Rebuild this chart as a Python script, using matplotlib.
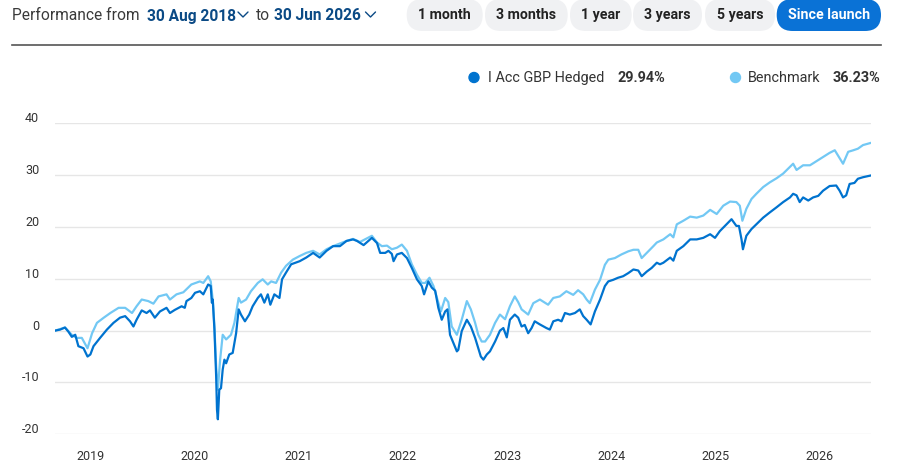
import matplotlib
matplotlib.use("Agg")
import matplotlib.pyplot as plt
import pandas as pd
from matplotlib.patches import FancyBboxPatch, Circle
from matplotlib.transforms import ScaledTranslation

# fund series (cumulative % return)
fund_dates = [
    "2018-08-30", "2018-09-17", "2018-10-04", "2018-10-16", "2018-10-28", "2018-11-09",
    "2018-11-20", "2018-12-08", "2018-12-22", "2019-01-01", "2019-01-12", "2019-02-04",
    "2019-02-28", "2019-03-23", "2019-04-15", "2019-05-03", "2019-05-20", "2019-06-01",
    "2019-06-12", "2019-06-30", "2019-07-17", "2019-07-29", "2019-08-15", "2019-09-02",
    "2019-09-25", "2019-10-07", "2019-10-24", "2019-11-17", "2019-11-28", "2019-12-04",
    "2019-12-21", "2020-01-03", "2020-01-20", "2020-02-01", "2020-02-18", "2020-02-27",
    "2020-03-02", "2020-03-05", "2020-03-11", "2020-03-17", "2020-03-20", "2020-03-23",
    "2020-03-28", "2020-04-03", "2020-04-09", "2020-04-15", "2020-04-21", "2020-05-02",
    "2020-05-14", "2020-05-26", "2020-06-04", "2020-06-12", "2020-06-26", "2020-07-11",
    "2020-07-23", "2020-08-10", "2020-08-21", "2020-09-02", "2020-09-14", "2020-09-23",
    "2020-10-07", "2020-10-25", "2020-11-03", "2020-11-17", "2020-12-05", "2021-01-04",
    "2021-01-27", "2021-02-20", "2021-03-15", "2021-04-08", "2021-05-01", "2021-05-25",
    "2021-06-17", "2021-07-10", "2021-07-24", "2021-08-16", "2021-09-14", "2021-10-02",
    "2021-10-13", "2021-10-31", "2021-11-11", "2021-11-23", "2021-11-29", "2021-12-11",
    "2021-12-28", "2022-01-15", "2022-02-01", "2022-02-19", "2022-03-08", "2022-03-16",
    "2022-03-31", "2022-04-12", "2022-04-24", "2022-05-05", "2022-05-17", "2022-05-29",
    "2022-06-06", "2022-06-15", "2022-06-27", "2022-07-09", "2022-07-14", "2022-07-26",
    "2022-08-13", "2022-08-27", "2022-09-11", "2022-09-22", "2022-10-01", "2022-10-10",
    "2022-10-22", "2022-11-02", "2022-11-20", "2022-12-07", "2022-12-19", "2022-12-31",
    "2023-01-11", "2023-01-28", "2023-02-09", "2023-02-21", "2023-03-04", "2023-03-16",
    "2023-03-28", "2023-04-08", "2023-04-26", "2023-05-19", "2023-05-31", "2023-06-12",
    "2023-06-29", "2023-07-11", "2023-07-23", "2023-08-09", "2023-08-27", "2023-09-13",
    "2023-09-25", "2023-10-07", "2023-10-21", "2023-11-05", "2023-11-23", "2023-12-10",
    "2023-12-22", "2024-01-08", "2024-01-25", "2024-02-12", "2024-03-01", "2024-03-19",
    "2024-04-05", "2024-04-17", "2024-05-05", "2024-05-22", "2024-06-09", "2024-06-20",
    "2024-07-02", "2024-07-26", "2024-08-06", "2024-08-18", "2024-09-10", "2024-10-04",
    "2024-10-27", "2024-11-19", "2024-12-13", "2024-12-30", "2025-01-16", "2025-02-08",
    "2025-02-26", "2025-03-15", "2025-03-24", "2025-04-02", "2025-04-07", "2025-04-19",
    "2025-05-07", "2025-05-24", "2025-06-17", "2025-07-10", "2025-08-03", "2025-08-26",
    "2025-09-19", "2025-09-30", "2025-10-12", "2025-10-23", "2025-11-04", "2025-11-22",
    "2025-12-09", "2025-12-27", "2026-01-13", "2026-02-05", "2026-02-28", "2026-03-12",
    "2026-03-24", "2026-04-04", "2026-04-16", "2026-05-03", "2026-05-15", "2026-06-02",
    "2026-06-30",
]
fund_values = [
    0.0, 0.2, 0.6, -0.2, -1.2, -0.8,
    -3.0, -3.4, -5.0, -4.6, -3.0, -1.4,
    0.2, 1.5, 2.5, 2.8, 1.8, 0.8,
    2.1, 3.9, 3.4, 3.9, 2.5, 3.7,
    4.4, 3.4, 4.0, 4.7, 4.4, 5.7,
    6.3, 7.3, 7.6, 7.0, 8.9, 8.6,
    5.4, 6.0, 0.2, -8.8, -15.3, -17.1,
    -11.4, -11.1, -7.5, -5.6, -6.3, -4.6,
    -4.3, -0.5, 4.1, 3.1, 1.8, 3.1,
    4.7, 6.3, 7.0, 5.4, 7.0, 5.0,
    7.0, 6.3, 9.9, 11.2, 12.8, 13.4,
    14.1, 15.0, 14.1, 15.4, 16.3, 16.3,
    17.3, 17.6, 17.3, 16.5, 17.9, 16.9,
    15.0, 15.0, 15.4, 14.8, 13.4, 14.7,
    15.0, 14.0, 12.1, 9.9, 8.6, 7.0,
    9.5, 8.3, 7.7, 4.4, 2.1, 3.7,
    4.1, -0.8, -2.4, -4.0, -3.7, -0.1,
    2.1, 0.8, -1.4, -3.4, -5.0, -5.6,
    -4.6, -4.0, -2.1, 0.0, 0.5, -1.3,
    2.1, 3.1, 2.5, 0.8, 1.1, -0.5,
    0.5, 1.8, 1.2, 0.5, 0.2, 1.8,
    2.1, 1.8, 3.4, 3.1, 3.4, 4.1,
    2.8, 2.1, 1.2, 3.7, 6.0, 8.6,
    9.5, 9.8, 10.2, 10.5, 11.1, 11.8,
    11.6, 10.5, 11.4, 12.1, 13.1, 12.8,
    13.1, 14.1, 13.5, 15.4, 16.3, 17.6,
    17.6, 17.9, 18.6, 17.9, 19.2, 20.5,
    21.5, 20.2, 20.2, 17.6, 15.7, 18.3,
    19.6, 20.5, 21.8, 22.8, 23.8, 24.8,
    25.7, 26.4, 26.1, 24.8, 25.7, 25.1,
    25.7, 26.0, 27.0, 27.9, 28.0, 27.0,
    25.7, 26.1, 28.3, 28.5, 29.3, 29.6,
    29.94,
]

# benchmark series
bench_dates = [
    "2018-08-30", "2018-10-04", "2018-10-28", "2018-11-14", "2018-12-02", "2018-12-22",
    "2019-01-07", "2019-01-24", "2019-02-17", "2019-03-12", "2019-04-10", "2019-05-03",
    "2019-05-27", "2019-06-12", "2019-06-30", "2019-07-23", "2019-08-10", "2019-08-28",
    "2019-09-25", "2019-10-07", "2019-10-30", "2019-11-23", "2019-12-21", "2020-01-20",
    "2020-02-01", "2020-02-18", "2020-02-27", "2020-03-06", "2020-03-11", "2020-03-17",
    "2020-03-23", "2020-03-31", "2020-04-09", "2020-04-21", "2020-05-08", "2020-05-20",
    "2020-06-04", "2020-06-12", "2020-06-30", "2020-07-17", "2020-08-10", "2020-08-27",
    "2020-09-14", "2020-09-26", "2020-10-13", "2020-10-31", "2020-11-17", "2020-12-11",
    "2021-01-04", "2021-01-27", "2021-02-20", "2021-03-15", "2021-04-08", "2021-05-01",
    "2021-06-17", "2021-07-10", "2021-08-03", "2021-09-14", "2021-10-02", "2021-10-19",
    "2021-11-06", "2021-11-23", "2021-12-11", "2021-12-28", "2022-01-15", "2022-02-01",
    "2022-02-19", "2022-03-08", "2022-03-20", "2022-04-04", "2022-04-18", "2022-05-02",
    "2022-05-14", "2022-05-29", "2022-06-09", "2022-06-21", "2022-07-09", "2022-07-26",
    "2022-08-13", "2022-08-27", "2022-09-11", "2022-09-22", "2022-10-04", "2022-10-16",
    "2022-11-02", "2022-11-20", "2022-12-07", "2022-12-25", "2023-01-11", "2023-01-28",
    "2023-02-09", "2023-02-21", "2023-03-16", "2023-04-03", "2023-04-26", "2023-05-25",
    "2023-06-12", "2023-07-05", "2023-07-28", "2023-08-21", "2023-09-07", "2023-09-25",
    "2023-10-07", "2023-10-18", "2023-11-05", "2023-11-23", "2023-12-10", "2023-12-22",
    "2024-01-14", "2024-02-06", "2024-03-01", "2024-03-19", "2024-04-05", "2024-04-17",
    "2024-05-05", "2024-05-28", "2024-06-09", "2024-07-02", "2024-07-26", "2024-08-06",
    "2024-08-18", "2024-09-10", "2024-10-04", "2024-10-27", "2024-11-19", "2024-12-13",
    "2025-01-05", "2025-01-28", "2025-02-21", "2025-03-15", "2025-03-27", "2025-04-05",
    "2025-04-19", "2025-05-07", "2025-05-24", "2025-06-17", "2025-07-10", "2025-08-03",
    "2025-08-26", "2025-09-19", "2025-09-30", "2025-10-12", "2025-11-04", "2025-11-28",
    "2025-12-21", "2026-01-13", "2026-02-05", "2026-02-23", "2026-03-06", "2026-03-24",
    "2026-04-11", "2026-04-29", "2026-05-15", "2026-06-02", "2026-06-30",
]
bench_values = [
    0.0, 0.6, -0.8, -1.4, -1.4, -3.4,
    -0.5, 1.5, 2.5, 3.4, 4.4, 4.4,
    3.4, 4.7, 6.0, 5.7, 5.2, 6.6,
    7.0, 6.0, 7.0, 7.4, 8.9, 9.5,
    9.2, 10.5, 9.5, 5.4, 0.8, -6.9,
    -11.4, -5.6, -0.8, -1.7, -0.8, 1.5,
    6.3, 5.4, 6.0, 7.6, 9.2, 9.9,
    8.9, 9.5, 9.2, 11.2, 12.5, 13.7,
    14.4, 15.0, 15.4, 14.7, 15.7, 16.3,
    17.3, 17.7, 17.1, 18.3, 17.0, 16.3,
    16.4, 15.7, 16.0, 16.6, 15.4, 12.8,
    10.8, 9.2, 9.2, 10.2, 8.6, 6.0,
    3.7, 6.3, 5.5, 0.8, -0.8, 2.1,
    5.7, 4.1, 1.5, -0.8, -2.1, -2.1,
    -0.8, 1.5, 3.1, 2.2, 4.7, 6.6,
    5.5, 4.1, 3.1, 5.3, 6.0, 5.0,
    6.3, 6.6, 7.6, 6.9, 7.8, 7.0,
    6.0, 5.3, 7.9, 9.8, 12.7, 13.7,
    14.0, 14.7, 15.3, 15.6, 15.6, 14.0,
    15.0, 16.3, 17.0, 17.6, 18.6, 18.0,
    20.5, 21.2, 22.0, 21.8, 22.2, 23.3,
    22.5, 24.1, 24.9, 24.8, 24.1, 21.2,
    23.5, 25.4, 26.4, 27.7, 28.6, 29.4,
    30.3, 31.6, 32.2, 31.0, 31.9, 31.9,
    32.7, 33.5, 34.3, 34.8, 33.8, 32.2,
    34.5, 34.8, 35.1, 35.8, 36.23,
]

year_ticks = ["2019", "2020", "2021", "2022", "2023", "2024", "2025", "2026"]
y_ticks = [-20, -10, 0, 10, 20, 30, 40]
periods = ["1 month", "3 months", "1 year", "3 years", "5 years", "Since launch"]

FUND_C = "#0073cf"
BENCH_C = "#72c8f4"
TEXT_C = "#333333"
NAVY = "#0b4a85"

plt.rcParams["font.family"] = ["Roboto", "DejaVu Sans"]

W, H = 898, 472
fig = plt.figure(figsize=(W / 100, H / 100), dpi=100)

# overlay for header decorations, pixel coordinates
bg = fig.add_axes([0, 0, 1, 1])
bg.set_xlim(0, W)
bg.set_ylim(H, 0)
bg.axis("off")

bg.text(12, 20.5, "Performance from", fontsize=11.2, color="#3a3a3a", va="baseline")
bg.text(146.7, 20.5, "30 Aug 2018", fontsize=11.2, color=NAVY, weight="bold", va="baseline")
bg.text(256, 20.5, "to", fontsize=11.2, color="#3a3a3a", va="baseline")
bg.text(274.3, 20.5, "30 Jun 2026", fontsize=11.2, color=NAVY, weight="bold", va="baseline")
for cx in (243, 370.5):
    bg.plot([cx - 5, cx, cx + 5], [12, 17, 12], color=NAVY, lw=1.0, solid_capstyle="round")

pill_x = [(406.7, 482.7), (485, 567.7), (570, 631.7), (633, 702), (705, 775), (776.7, 881)]
for (x0, x1), label in zip(pill_x, periods):
    active = label == "Since launch"
    box = FancyBboxPatch((x0, -1), x1 - x0, 32,
                         boxstyle="round,pad=0,rounding_size=16",
                         fc="#0a72d6" if active else "#f0f1f3", ec="none")
    bg.add_patch(box)
    bg.text((x0 + x1) / 2, 19.3, label, fontsize=10.2, weight="bold",
            color="white" if active else "#222222", ha="center", va="baseline")

bg.plot([12, 881], [45, 45], color="#555555", lw=1.2)

# legend
bg.add_patch(Circle((474, 77.5), 5, color=FUND_C))
bg.text(488, 82.3, "I Acc GBP Hedged", fontsize=10.4, color=TEXT_C, va="baseline")
bg.text(618, 82.3, "29.94%", fontsize=10.4, color=TEXT_C, weight="bold", va="baseline")
bg.add_patch(Circle((735.5, 77.5), 5, color=BENCH_C))
bg.text(748, 82.3, "Benchmark", fontsize=10.4, color=TEXT_C, va="baseline")
bg.text(880.5, 82.3, "36.23%", fontsize=10.4, color=TEXT_C, weight="bold",
        va="baseline", ha="right")

# main chart
ax = fig.add_axes([55 / W, 1 - 434.3 / H, (871 - 55) / W, (434.3 - 123.3) / H])
ax.set_facecolor("none")
fd = pd.to_datetime(fund_dates)
bd = pd.to_datetime(bench_dates)
ax.plot(bd, bench_values, color=BENCH_C, lw=1.6, zorder=3)
ax.plot(fd, fund_values, color=FUND_C, lw=1.6, zorder=4)

ax.set_xlim(pd.Timestamp("2018-08-30"), pd.Timestamp("2026-06-30"))
ax.set_ylim(-20, 40)
ax.set_yticks(y_ticks)
ax.set_yticklabels([str(v) for v in y_ticks])
ax.set_xticks(pd.to_datetime([y + "-01-01" for y in year_ticks]))
ax.set_xticklabels(year_ticks)
ax.grid(axis="y", color="#e6e6e6", lw=1.0)
ax.set_axisbelow(True)
for s in ax.spines.values():
    s.set_visible(False)
ax.tick_params(axis="both", length=0, labelsize=9, labelcolor=TEXT_C)
ax.tick_params(axis="y", pad=11.3)
ax.tick_params(axis="x", pad=11)
for lab in ax.get_yticklabels():
    lab.set_transform(lab.get_transform() + ScaledTranslation(0, 6 / 100, fig.dpi_scale_trans))

fig.savefig("out.png", dpi=100)
